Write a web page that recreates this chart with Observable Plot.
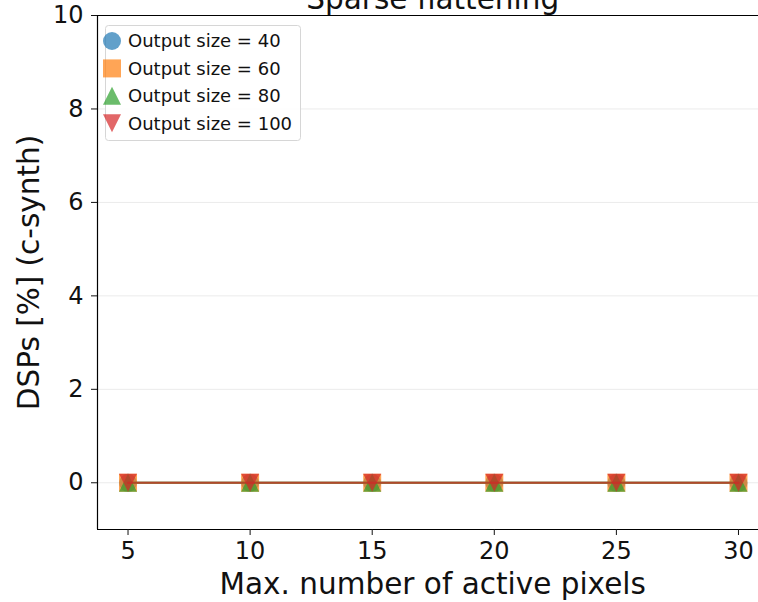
<!DOCTYPE html>
<html>
<head>
<meta charset="utf-8">
<script src="https://cdn.jsdelivr.net/npm/d3@7"></script>
<script src="https://cdn.jsdelivr.net/npm/@observablehq/plot@0.6"></script>
<style>
  html, body { margin: 0; padding: 0; background: #fff; overflow: hidden; }
  svg { display: block; }
</style>
</head>
<body>
<div id="chart"></div>
<script>
const pixels = [5, 10, 15, 20, 25, 30];
const size40 = [0, 0, 0, 0, 0, 0];
const size60 = [0, 0, 0, 0, 0, 0];
const size80 = [0, 0, 0, 0, 0, 0];
const size100 = [0, 0, 0, 0, 0, 0];
const seriesNames = ["Output size = 40", "Output size = 60", "Output size = 80", "Output size = 100"];
const seriesValues = [size40, size60, size80, size100];
const seriesColors = ["#1f77b4", "#ff7f0e", "#2ca02c", "#d62728"];
const yTicks = [0, 2, 4, 6, 8, 10];
const xTicks = [5, 10, 15, 20, 25, 30];
const title = "Sparse flattening";
const xLabel = "Max. number of active pixels";
const yLabel = "DSPs [%] (c-synth)";

const R = s => Math.sqrt(s / Math.PI);
const symCircle = {draw(ctx, s) { const r = R(s); ctx.moveTo(r, 0); ctx.arc(0, 0, r, 0, 2 * Math.PI); }};
const symSquare = {draw(ctx, s) { const r = R(s); ctx.rect(-r, -r, 2 * r, 2 * r); }};
const symTriUp = {draw(ctx, s) { const r = R(s); ctx.moveTo(0, -r); ctx.lineTo(r, r); ctx.lineTo(-r, r); ctx.closePath(); }};
const symTriDown = {draw(ctx, s) { const r = R(s); ctx.moveTo(0, r); ctx.lineTo(r, -r); ctx.lineTo(-r, -r); ctx.closePath(); }};
const symbols = [symCircle, symSquare, symTriUp, symTriDown];

const rows = seriesValues.map((vals, i) => pixels.map((p, j) => ({x: p, y: vals[j], s: i})));

const font = "'DejaVu Sans', sans-serif";
const marks = [
  Plot.ruleY(yTicks, {stroke: "#ebebeb", strokeWidth: 1}),
];
rows.forEach((data, i) => {
  marks.push(Plot.line(data, {x: "x", y: "y", stroke: seriesColors[i], strokeWidth: 2, strokeOpacity: 0.7}));
  marks.push(Plot.dot(data, {x: "x", y: "y", symbol: symbols[i], r: 9, fill: seriesColors[i], fillOpacity: 0.7, stroke: "none"}));
});
marks.push(
  Plot.ruleX([3.75], {stroke: "#000", strokeWidth: 1.2}),
  Plot.ruleY([-1], {stroke: "#000", strokeWidth: 1.2}),
  Plot.ruleY([10], {stroke: "#000", strokeWidth: 1.2}),
  Plot.axisY({ticks: yTicks, tickSize: 6, tickPadding: 8, fontSize: 24, label: null}),
  Plot.axisX({ticks: xTicks, tickSize: 6, tickPadding: 6, fontSize: 24, label: null})
);

const chart = Plot.plot({
  width: 758,
  height: 602,
  marginTop: 15,
  marginBottom: 73,
  marginLeft: 97,
  marginRight: 0,
  style: {fontFamily: font, color: "#111", background: "#fff", overflow: "visible"},
  x: {domain: [3.75, 31.25], range: [97, 768.5]},
  y: {domain: [-1, 10]},
  marks
});

const svg = d3.select(chart);
// title and axis titles (centred on the full axes box, which extends past the right edge)
svg.append("text")
  .attr("x", 432.75).attr("y", 8.5)
  .attr("text-anchor", "middle")
  .attr("font-size", 29.5).attr("font-family", font).attr("fill", "#111")
  .text(title);
svg.append("text")
  .attr("x", 432.75).attr("y", 594)
  .attr("text-anchor", "middle")
  .attr("font-size", 29.5).attr("font-family", font).attr("fill", "#111")
  .text(xLabel);
svg.append("text")
  .attr("transform", "translate(39,272.5) rotate(-90)")
  .attr("text-anchor", "middle")
  .attr("font-size", 29.5).attr("font-family", font).attr("fill", "#111")
  .text(yLabel);

// legend
const lg = svg.append("g").attr("font-family", font).attr("text-anchor", "start");
lg.append("rect").attr("x", 105.5).attr("y", 25.5).attr("width", 195).attr("height", 115)
  .attr("rx", 3).attr("fill", "#fff").attr("fill-opacity", 0.85).attr("stroke", "#d6d6d6");
seriesNames.forEach((name, i) => {
  const cy = 41 + i * 27.4;
  lg.append("path")
    .attr("transform", `translate(112,${cy})`)
    .attr("d", d3.symbol(symbols[i], Math.PI * 9 * 9)())
    .attr("fill", seriesColors[i]).attr("fill-opacity", 0.7);
  lg.append("text").attr("x", 128).attr("y", cy).attr("dy", "0.35em")
    .attr("text-anchor", "start")
    .attr("font-size", 18).attr("fill", "#111").text(name);
});

document.getElementById("chart").appendChild(chart);
</script>
</body>
</html>
